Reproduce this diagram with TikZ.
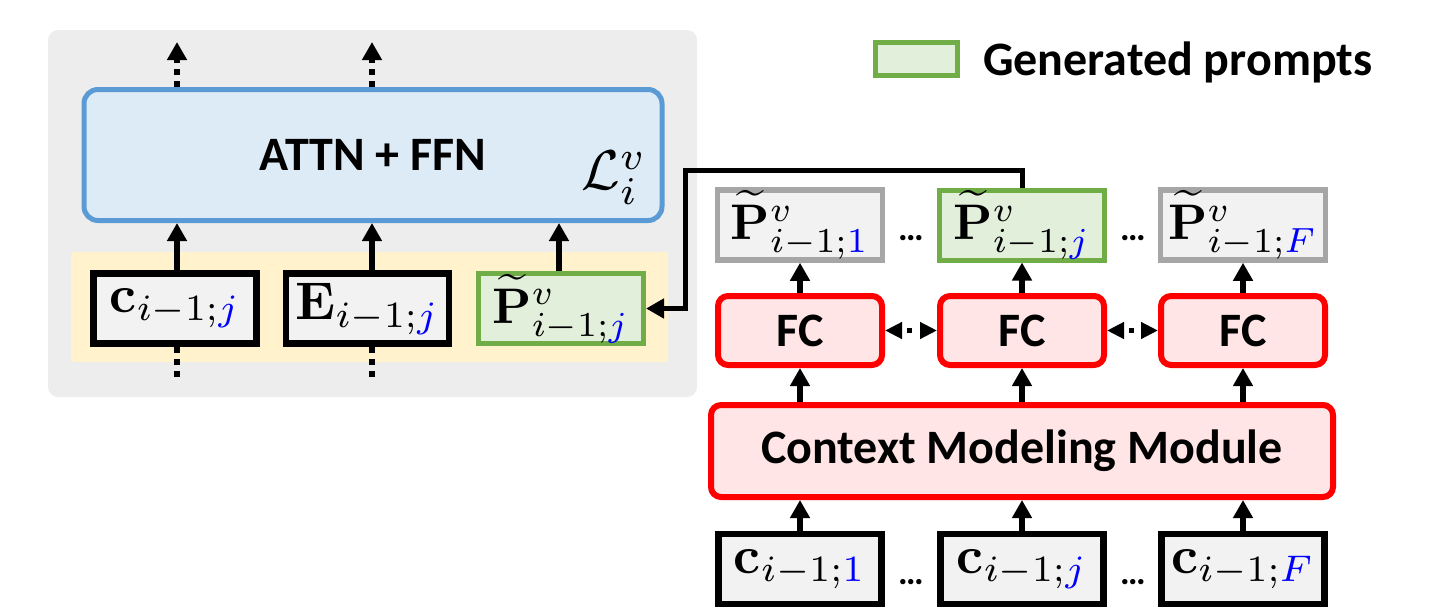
\documentclass[tikz,border=0pt]{standalone}
\usepackage{graphicx}
\usepackage[no-math]{fontspec}
\setmainfont{Carlito}
\usetikzlibrary{arrows.meta}

\definecolor{panelgray}{HTML}{EDEDED}
\definecolor{layerline}{HTML}{5B9BD5}
\definecolor{layerfill}{HTML}{DDEBF7}
\definecolor{bandfill}{HTML}{FFF2CC}
\definecolor{promptline}{HTML}{70AD47}
\definecolor{promptfill}{HTML}{E2EFDA}
\definecolor{idleline}{HTML}{A6A6A6}
\definecolor{boxfill}{HTML}{F2F2F2}
\definecolor{modline}{HTML}{FF0000}
\definecolor{modfill}{HTML}{FFE5E5}

% math symbols drawn at 10pt and enlarged
\newcommand{\mbig}[1]{\scalebox{5.3}{$#1$}}
\newcommand{\pbig}[1]{\scalebox{5.0}{$#1$}}
\newcommand{\bigsans}{\fontsize{48}{54}\selectfont\bfseries}
\newcommand{\blueidx}[1]{\textcolor{blue}{#1}}
\newcommand{\Ptil}{\widetilde{\mathbf{P}}}

\tikzset{
  arr/.style={line width=6pt, -{Triangle[length=18pt,width=19pt]}},
  dotarr/.style={line width=6pt, dash pattern=on 6pt off 6pt,
                 -{Triangle[length=18pt,width=19pt]}},
  dotline/.style={line width=6pt, dash pattern=on 6pt off 6pt},
  dbldot/.style={line width=5pt, dash pattern=on 0pt off 6.5pt on 5pt off 60pt,
                 {Triangle[length=17pt,width=16pt]}-{Triangle[length=17pt,width=16pt]}},
  panel/.style={fill=panelgray, rounded corners=10pt, inner sep=0pt},
  band/.style={fill=bandfill, rounded corners=3pt, inner sep=0pt},
  layerbox/.style={draw=layerline, fill=layerfill, line width=5pt,
                   rounded corners=14pt, inner sep=0pt},
  tokbox/.style={draw=black, fill=boxfill, line width=6.5pt, inner sep=0pt,
                 minimum width=163pt, minimum height=70pt},
  genbox/.style={draw=promptline, fill=promptfill, line width=5pt, inner sep=0pt,
                 minimum width=165pt, minimum height=70pt},
  idlebox/.style={draw=idleline, fill=boxfill, line width=5.5pt, inner sep=0pt,
                  minimum width=165pt, minimum height=70pt},
  fcbox/.style={draw=modline, fill=modfill, line width=6pt, rounded corners=10pt,
                inner sep=0pt, minimum width=164pt, minimum height=69pt, font=\bigsans},
  dots/.style={font=\fontsize{36}{40}\selectfont\bfseries, inner sep=0pt},
}

\begin{document}
\begin{tikzpicture}[x=1pt,y=-1pt]
\useasboundingbox (0,0) rectangle (1439,613);

% ---------- transformer layer ----------
\node[panel, minimum width=649pt, minimum height=367pt] (panel) at (372.5,213.5) {};
\node[band, minimum width=597pt, minimum height=110pt] (band) at (369.5,307) {};
\node[layerbox, minimum width=578pt, minimum height=131pt] (layer) at (373,155)
  {\bigsans ATTN + FFN};
\node[inner sep=0pt] (lname) at (614,178) {\scalebox{5.6}{$\mathcal{L}_i^v$}};

\node[tokbox] (cin) at (175,308.5) {\mbig{\mathbf{c}_{i-1;\blueidx{j}}}};
\node[tokbox] (ein) at (367.5,308.5) {\mbig{\mathbf{E}_{i-1;\blueidx{j}}}};
\node[genbox] (pin) at (561,308.5) {\pbig{\Ptil^v_{i-1;\blueidx{j}}}};

\coordinate (cout) at (177,42);
\coordinate (eout) at (372,42);
\coordinate (pup) at (559,0);
\coordinate (cbelow) at (177,378);
\coordinate (ebelow) at (372,378);

\draw[arr] (cin.north -| cout) -- (layer.south -| cout);
\draw[arr] (ein.north -| eout) -- (layer.south -| eout);
\draw[arr] (pin.north -| pup) -- (layer.south -| pup);
\draw[dotarr] (layer.north -| cout) -- (cout);
\draw[dotarr] (layer.north -| eout) -- (eout);
\draw[dotline] (cin.south -| cbelow) -- (cbelow);
\draw[dotline] (ein.south -| ebelow) -- (ebelow);

% ---------- prompt generator ----------
\node[idlebox] (p1) at (800,225) {\pbig{\Ptil^v_{i-1;\blueidx{1}}}};
\node[genbox]  (pj) at (1022,225) {\pbig{\Ptil^v_{i-1;\blueidx{j}}}};
\node[idlebox] (pf) at (1243,225) {\pbig{\Ptil^v_{i-1;\blueidx{F}}}};
\node[dots] (pdots1) at (911,238) {…};
\node[dots] (pdots2) at (1133,238) {…};

\node[fcbox] (fc1) at (800,330.5) {FC};
\node[fcbox] (fcj) at (1022,330.5) {FC};
\node[fcbox] (fcf) at (1243,330.5) {FC};

\node[fcbox, minimum width=622pt, minimum height=92pt] (cmm) at (1022,451)
  {Context Modeling Module};

\node[tokbox] (c1) at (800,569) {\mbig{\mathbf{c}_{i-1;\blueidx{1}}}};
\node[tokbox] (cj) at (1022,569) {\mbig{\mathbf{c}_{i-1;\blueidx{j}}}};
\node[tokbox] (cf) at (1243,569) {\mbig{\mathbf{c}_{i-1;\blueidx{F}}}};
\node[dots] (cdots1) at (911,582) {…};
\node[dots] (cdots2) at (1133,582) {…};

\foreach \n in {1,j,f}{
  \draw[arr] (c\n.north) -- (c\n.north |- cmm.south);
  \draw[arr] (cmm.north -| fc\n.south) -- (fc\n.south);
  \draw[arr] (fc\n.north) -- (p\n.south);
}
\draw[dbldot] (fc1.east) -- (fcj.west);
\draw[dbldot] (fcj.east) -- (fcf.west);

% generated prompt fed back into the layer
\coordinate (turn) at (685,170);
\draw[arr, line width=5pt] (pj.north) |- (turn) |- (pin.east);

% ---------- legend ----------
\node[genbox, minimum width=82pt, minimum height=33pt] (legbox) at (916.5,59) {};
\node[anchor=west, font=\bigsans, inner sep=0pt] (legtext) at (983,62) {Generated prompts};
\end{tikzpicture}
\end{document}
